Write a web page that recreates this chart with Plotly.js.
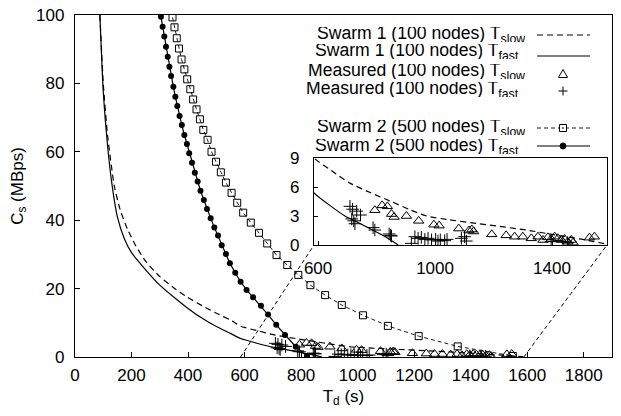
<!DOCTYPE html>
<html>
<head>
<meta charset="utf-8">
<script src="https://cdn.plot.ly/plotly-3.0.1.min.js"></script>
<style>html,body{margin:0;padding:0;background:#fff;}#chart{width:621px;height:416px;}</style>
</head>
<body>
<div id="chart"></div>
<script>
// ---- data ----
const s1SlowX = [88,100,115,139,160,185,215,250,300,350,395,450,500,550,586,650,709,780,850,910,971,1050,1150,1240,1312,1400,1500,1586];
const s1SlowY = [100,80,65,50,43,37.5,32.5,28,23.5,20.2,17.6,15,12.8,10.8,9.0,7.6,6.4,5.4,4.5,3.7,3.0,2.6,2.2,1.85,1.55,1.1,0.6,0.1];

const s1FastX = [88,100,115,130,150,175,200,250,300,348,400,450,500,550,586,640,692,735,777,830,874];
const s1FastY = [100,77.5,62,51,41,34.5,30.5,25.5,21,17.6,14.2,11.3,8.9,6.9,5.4,4.1,3.0,2.35,1.7,0.85,0];

const s2SlowX = [345,352,360,368,377,387,397,408,418,430,442,454,469,483,499,516,534,554,574,595,622,651,680,713,751,790,833,885,944,1019,1107,1216,1354,1549];
const s2SlowY = [99.3,96.4,93.2,90.2,87,84.1,81.2,78.3,75.3,72.4,69.5,66.4,63.5,60,57.1,54,51,48,45.1,42.2,39.3,36.3,33.2,29.8,26.9,24,21,18.1,15.2,12.2,9.1,6.1,3.1,0.3];

const s2FastX = [304,310,316,322,328,334,340,348,355,362,370,378,387,396,404,414,424,434,444,456,467,480,493,506,519,534,548,567,586,607,630,658,683,712,743,781,821];
const s2FastY = [99.5,96.6,93.7,90.7,87.8,84.9,82.2,79,76.1,73.4,70.5,67.8,64.9,62.3,59.6,56.8,53.9,51.3,48.6,45.9,43.3,40.6,37.9,35.5,32.7,30.1,27.4,24.6,22,19.6,17.5,15.0,12.4,9.4,6.4,3.0,0.2];

const measSlowX = [794,819,837,851,860,902,944,996,1014,1081,1116,1126,1132,1194,1243,1272,1300,1329,1352,1369,1386,1397,1409,1420,1432,1443,1454,1466,1472,1528,1545];
const measSlowY = [3.6,4.1,4.0,3.2,2.9,3.0,2.5,2.1,2.0,1.7,1.5,1.6,1.4,1.1,1.0,0.86,0.86,0.69,0.86,0.52,0.79,0.62,0.86,0.69,0.52,0.62,0.34,0.52,0.24,0.76,0.86];

const measFastX = [709,718,732,745,715,726,722,788,794,843,851,848,919,931,942,953,965,976,988,1002,1010,1018,1033,1041,1090,1101,1107,1397,1437,1453];
const measFastY = [4.0,3.7,3.5,3.1,2.7,2.2,2.5,1.8,1.55,1.14,0.93,1.0,0.17,0.86,0.69,0.79,0.58,0.69,0.52,0.58,0.41,0.52,0.45,0.58,0.69,0.86,0.41,0.34,0.34,0.24];

const xTicks = [0,200,400,600,800,1000,1200,1400,1600,1800];
const yTicks = [0,20,40,60,80,100];
const insetXTicks = [600,1000,1400];
const insetYTicks = [0,3,6,9];
const mainXRange = [0,1900];
const mainYRange = [0,100];
const insetXRange = [586,1588];
const insetYRange = [0,9];

const legendMain = [
  'Swarm 1 (100 nodes) T',
  'Swarm 1 (100 nodes) T',
  'Measured (100 nodes) T',
  'Measured (100 nodes) T',
  'Swarm 2 (500 nodes) T',
  'Swarm 2 (500 nodes) T'
];
const legendSub = ['slow','fast','slow','fast','slow','fast'];

// ---- layout geometry ----
const W = 621, H = 416, ML = 75, MR = 9, MT = 15, MB = 59;
const PW = W - ML - MR, PH = H - MT - MB;
const px2x = p => (p - ML) / PW;
const py2y = p => (H - MB - p) / PH;
const insetDomX = [px2x(314), px2x(607)];
const insetDomY = [py2y(245), py2y(158)];

const FONT = 'Liberation Sans, Arial, Helvetica, sans-serif';
const black = '#000';

function main(tr){ return Object.assign({xaxis:'x', yaxis:'y', showlegend:false, hoverinfo:'skip'}, tr); }
function inset(tr){ return Object.assign({xaxis:'x2', yaxis:'y2', showlegend:false, hoverinfo:'skip'}, tr); }

const slowLine = {color:black, width:1.2, dash:'6px,4px', shape:'spline', smoothing:0.5};
const fastLine = {color:black, width:1.2, shape:'spline', smoothing:0.5};
const triMarker = {symbol:'triangle-up-open', size:9, color:black, line:{width:1, color:black}};
const crossMarker = {symbol:'cross-thin-open', size:9, color:black, line:{width:1, color:black}};

const traces = [
  main({x:s1SlowX, y:s1SlowY, mode:'lines', line:slowLine}),
  main({x:s1FastX, y:s1FastY, mode:'lines', line:fastLine}),
  main({x:s2SlowX, y:s2SlowY, mode:'lines+markers', line:{color:black, width:0.9, dash:'4px,3px'},
        marker:{symbol:'square-open', size:7, color:black, line:{width:1, color:black}}}),
  main({x:s2FastX, y:s2FastY, mode:'lines+markers', line:{color:black, width:1.2},
        marker:{symbol:'circle', size:6, color:black}}),
  main({x:measSlowX, y:measSlowY, mode:'markers', marker:triMarker}),
  main({x:measFastX, y:measFastY, mode:'markers', marker:crossMarker}),
  inset({x:s1SlowX, y:s1SlowY, mode:'lines', line:slowLine}),
  inset({x:s1FastX, y:s1FastY, mode:'lines', line:fastLine}),
  inset({x:measSlowX, y:measSlowY, mode:'markers', marker:triMarker}),
  inset({x:measFastX, y:measFastY, mode:'markers', marker:crossMarker})
];

// ---- legend drawn with shapes / annotations ----
const textRows = [33, 51, 70, 88, 127, 145];
const sampleRows = [35, 56, 74, 91, 128, 146];
const subRight = {slow:526, fast:520};
const sx0 = px2x(537), sx1 = px2x(590), smx = 563;
const shapes = [];
const annotations = [];
legendMain.forEach((t, i) => {
  const sub = legendSub[i];
  annotations.push({xref:'paper', yref:'paper', x:px2x(subRight[sub]), y:py2y(textRows[i]+1), xanchor:'right', yanchor:'middle',
    text:t + '<sub>' + sub + '</sub>', showarrow:false, height:15, valign:'middle',
    font:{family:FONT, size:17.6, color:black}, borderpad:0});
});
shapes.push({type:'line', xref:'paper', yref:'paper', x0:sx0, x1:sx1, y0:py2y(sampleRows[0]), y1:py2y(sampleRows[0]), line:{color:black, width:1.2, dash:'6px,4px'}});
shapes.push({type:'line', xref:'paper', yref:'paper', x0:sx0, x1:sx1, y0:py2y(sampleRows[1]), y1:py2y(sampleRows[1]), line:{color:black, width:1.2}});
(function(){const cy=sampleRows[2];
  shapes.push({type:'path', xref:'paper', yref:'paper',
    path:`M ${px2x(smx-4.5)},${py2y(cy+3.5)} L ${px2x(smx+4.5)},${py2y(cy+3.5)} L ${px2x(smx)},${py2y(cy-4.5)} Z`,
    line:{color:black, width:1}});})();
(function(){const cy=sampleRows[3];
  shapes.push({type:'line', xref:'paper', yref:'paper', x0:px2x(smx-4.5), x1:px2x(smx+4.5), y0:py2y(cy), y1:py2y(cy), line:{color:black,width:1}});
  shapes.push({type:'line', xref:'paper', yref:'paper', x0:px2x(smx), x1:px2x(smx), y0:py2y(cy-4.5), y1:py2y(cy+4.5), line:{color:black,width:1}});})();
(function(){const cy=sampleRows[4];
  shapes.push({type:'line', xref:'paper', yref:'paper', x0:sx0, x1:sx1, y0:py2y(cy), y1:py2y(cy), line:{color:black, width:0.9, dash:'4px,3px'}});
  shapes.push({type:'rect', xref:'paper', yref:'paper', x0:px2x(smx-3.5), x1:px2x(smx+3.5), y0:py2y(cy+3.5), y1:py2y(cy-3.5), line:{color:black,width:1}, fillcolor:'#fff'});
  shapes.push({type:'line', xref:'paper', yref:'paper', x0:px2x(smx-1), x1:px2x(smx+1), y0:py2y(cy), y1:py2y(cy), line:{color:black,width:1}});})();
(function(){const cy=sampleRows[5];
  shapes.push({type:'line', xref:'paper', yref:'paper', x0:sx0, x1:sx1, y0:py2y(cy), y1:py2y(cy), line:{color:black, width:1.2}});
  shapes.push({type:'circle', xref:'paper', yref:'paper', x0:px2x(smx-3), x1:px2x(smx+3), y0:py2y(cy+3), y1:py2y(cy-3), line:{color:black,width:1}, fillcolor:black});})();

// zoom connector lines from main x-axis to inset corners
const xs = v => (v - mainXRange[0]) / (mainXRange[1] - mainXRange[0]);
shapes.push({type:'line', xref:'paper', yref:'paper', x0:xs(insetXRange[0]), y0:0, x1:insetDomX[0], y1:insetDomY[0], line:{color:black, width:1, dash:'4px,3px'}});
shapes.push({type:'line', xref:'paper', yref:'paper', x0:xs(insetXRange[1]), y0:0, x1:insetDomX[1], y1:insetDomY[0], line:{color:black, width:1, dash:'4px,3px'}});

const axisCommon = {showgrid:false, zeroline:false, showline:true, linecolor:black, linewidth:1.2, mirror:true,
  ticks:'inside', tickcolor:black, tickwidth:1, tickfont:{family:FONT, size:17, color:black}};

const layout = {
  width:W, height:H,
  margin:{l:ML, r:MR, t:MT, b:MB, pad:0},
  paper_bgcolor:'#fff', plot_bgcolor:'rgba(0,0,0,0)',
  font:{family:FONT, size:17, color:black},
  showlegend:false,
  xaxis: Object.assign({}, axisCommon, {domain:[0,1], range:mainXRange, tickvals:xTicks, ticklen:5, anchor:'y',
    ticklabelstandoff:2,
    title:{text:'T<sub>d</sub> (s)', font:{family:FONT, size:17, color:black}, standoff:6}}),
  yaxis: Object.assign({}, axisCommon, {domain:[0,1], range:mainYRange, tickvals:yTicks, ticklen:5, anchor:'x',
    ticklabelstandoff:6,
    title:{text:'C<sub>s</sub> (MBps)', font:{family:FONT, size:17, color:black}, standoff:8}}),
  xaxis2: Object.assign({}, axisCommon, {domain:insetDomX, range:insetXRange, tickvals:insetXTicks, ticklen:4, anchor:'y2', ticklabelstandoff:7}),
  yaxis2: Object.assign({}, axisCommon, {domain:insetDomY, range:insetYRange, tickvals:insetYTicks, ticklen:4, anchor:'x2', ticklabelstandoff:10}),
  shapes: shapes,
  annotations: annotations
};

Plotly.newPlot('chart', traces, layout, {displayModeBar:false, staticPlot:true});
</script>
</body>
</html>
